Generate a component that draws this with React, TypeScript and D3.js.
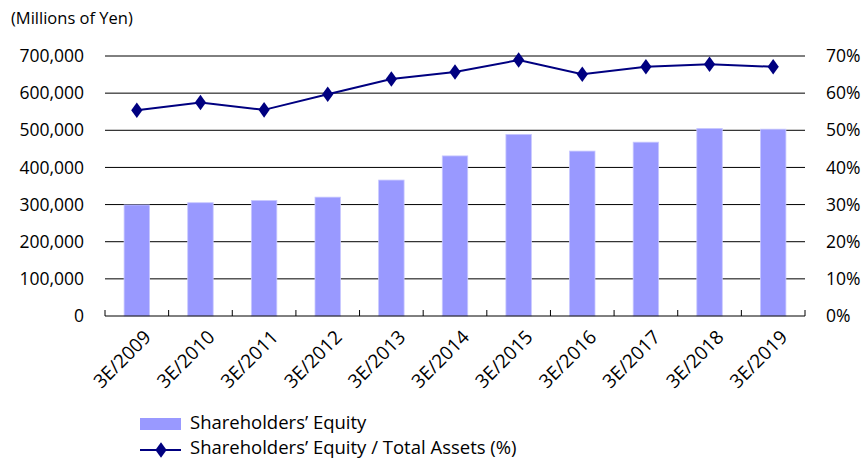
import React, { useEffect, useRef } from "react";
import * as d3 from "d3";

const categories = [
  "3E/2009", "3E/2010", "3E/2011", "3E/2012", "3E/2013", "3E/2014",
  "3E/2015", "3E/2016", "3E/2017", "3E/2018", "3E/2019",
];
const equity = [299000, 305000, 311000, 320000, 366000, 431000, 489000, 444000, 468000, 505000, 503000];
const equityRatio = [55.4, 57.5, 55.5, 59.7, 63.8, 65.7, 68.9, 65.1, 67.1, 67.8, 67.1];
const leftTicks = [0, 100000, 200000, 300000, 400000, 500000, 600000, 700000];
const rightTicks = [0, 10, 20, 30, 40, 50, 60, 70];

const FONT = "'Open Sans', sans-serif";

function App() {
  const svgRef = useRef<SVGSVGElement>(null);

  useEffect(() => {
    const width = 865;
    const height = 459;
    const margin = { top: 56, right: 60, bottom: 143, left: 105 };
    const innerW = width - margin.left - margin.right;
    const innerH = height - margin.top - margin.bottom;

    const svg = d3.select(svgRef.current);
    svg.selectAll("*").remove();
    svg.attr("width", width).attr("height", height);

    // title
    svg
      .append("text")
      .attr("x", 11)
      .attr("y", 24)
      .attr("font-family", FONT)
      .attr("font-size", 16.5)
      .attr("fill", "#000")
      .text("(Millions of Yen)");

    const g = svg.append("g").attr("transform", `translate(${margin.left},${margin.top})`);

    const x = d3.scaleBand().domain(categories).range([0, innerW]).paddingInner(0).paddingOuter(0);
    const yLeft = d3.scaleLinear().domain([0, 700000]).range([innerH, 0]);
    const yRight = d3.scaleLinear().domain([0, 70]).range([innerH, 0]);

    // gridlines
    g.selectAll(".grid")
      .data(leftTicks.filter((d) => d > 0))
      .enter()
      .append("line")
      .attr("x1", 0)
      .attr("x2", innerW)
      .attr("y1", (d) => yLeft(d))
      .attr("y2", (d) => yLeft(d))
      .attr("stroke", "#000")
      .attr("stroke-width", 1);

    // left labels
    g.selectAll(".ltick")
      .data(leftTicks)
      .enter()
      .append("text")
      .attr("x", -21)
      .attr("y", (d) => yLeft(d))
      .attr("dy", "0.35em")
      .attr("text-anchor", "end")
      .attr("font-family", FONT)
      .attr("font-size", 17.5)
      .attr("fill", "#000")
      .text((d) => d3.format(",")(d));

    // right labels
    g.selectAll(".rtick")
      .data(rightTicks)
      .enter()
      .append("text")
      .attr("x", innerW + 21)
      .attr("y", (d) => yRight(d))
      .attr("dy", "0.35em")
      .attr("text-anchor", "start")
      .attr("font-family", FONT)
      .attr("font-size", 17.5)
      .attr("fill", "#000")
      .text((d) => `${d}%`);

    // bars
    const barW = x.bandwidth() * 0.4;
    g.selectAll(".bar")
      .data(equity)
      .enter()
      .append("rect")
      .attr("x", (_, i) => (x(categories[i]) as number) + (x.bandwidth() - barW) / 2)
      .attr("y", (d) => yLeft(d))
      .attr("width", barW)
      .attr("height", (d) => innerH - yLeft(d))
      .attr("fill", "#9999ff")
      .attr("stroke", "#c8c8ff")
      .attr("stroke-width", 0.8);

    // x axis
    g.append("line")
      .attr("x1", 0)
      .attr("x2", innerW)
      .attr("y1", innerH)
      .attr("y2", innerH)
      .attr("stroke", "#000");
    const tickPos = categories.map((c) => x(c) as number).concat([innerW]);
    g.selectAll(".xtick")
      .data(tickPos)
      .enter()
      .append("line")
      .attr("x1", (d) => d)
      .attr("x2", (d) => d)
      .attr("y1", innerH)
      .attr("y2", innerH - 6)
      .attr("stroke", "#000");

    // x labels
    g.selectAll(".xlabel")
      .data(categories)
      .enter()
      .append("text")
      .attr(
        "transform",
        (d) => `translate(${(x(d) as number) + x.bandwidth() / 2 + 6},${innerH + 13}) rotate(-45)`
      )
      .attr("text-anchor", "end")
      .attr("dy", "0.7em")
      .attr("font-family", FONT)
      .attr("font-size", 19)
      .attr("fill", "#000")
      .text((d) => d);

    // line
    const line = d3
      .line<number>()
      .x((_, i) => (x(categories[i]) as number) + x.bandwidth() / 2)
      .y((d) => yRight(d));
    g.append("path")
      .datum(equityRatio)
      .attr("d", line)
      .attr("fill", "none")
      .attr("stroke", "#000080")
      .attr("stroke-width", 2);

    const diamond = d3.symbol().type(d3.symbolDiamond).size(70);
    g.selectAll(".pt")
      .data(equityRatio)
      .enter()
      .append("path")
      .attr("d", diamond)
      .attr(
        "transform",
        (d, i) =>
          `translate(${(x(categories[i]) as number) + x.bandwidth() / 2},${yRight(d)}) scale(1.25,1)`
      )
      .attr("fill", "#000080");

    // legend
    const lg = svg.append("g");
    lg.append("rect")
      .attr("x", 140)
      .attr("y", 418)
      .attr("width", 41)
      .attr("height", 12)
      .attr("fill", "#9999ff");
    lg.append("text")
      .attr("x", 190)
      .attr("y", 423)
      .attr("dy", "0.35em")
      .attr("font-family", FONT)
      .attr("font-size", 18.5)
      .attr("fill", "#000")
      .text("Shareholders’ Equity");
    lg.append("line")
      .attr("x1", 140)
      .attr("x2", 181)
      .attr("y1", 450)
      .attr("y2", 450)
      .attr("stroke", "#000080")
      .attr("stroke-width", 2);
    lg.append("path")
      .attr("d", diamond)
      .attr("transform", "translate(161,450) scale(1.25,1)")
      .attr("fill", "#000080");
    lg.append("text")
      .attr("x", 190)
      .attr("y", 448)
      .attr("dy", "0.35em")
      .attr("font-family", FONT)
      .attr("font-size", 18.5)
      .attr("fill", "#000")
      .text("Shareholders’ Equity / Total Assets (%)");
  }, []);

  return (
    <div style={{ position: "fixed", left: 0, top: 0, background: "#fff" }}>
      <svg ref={svgRef} style={{ display: "block" }}></svg>
    </div>
  );
}

export default App;
